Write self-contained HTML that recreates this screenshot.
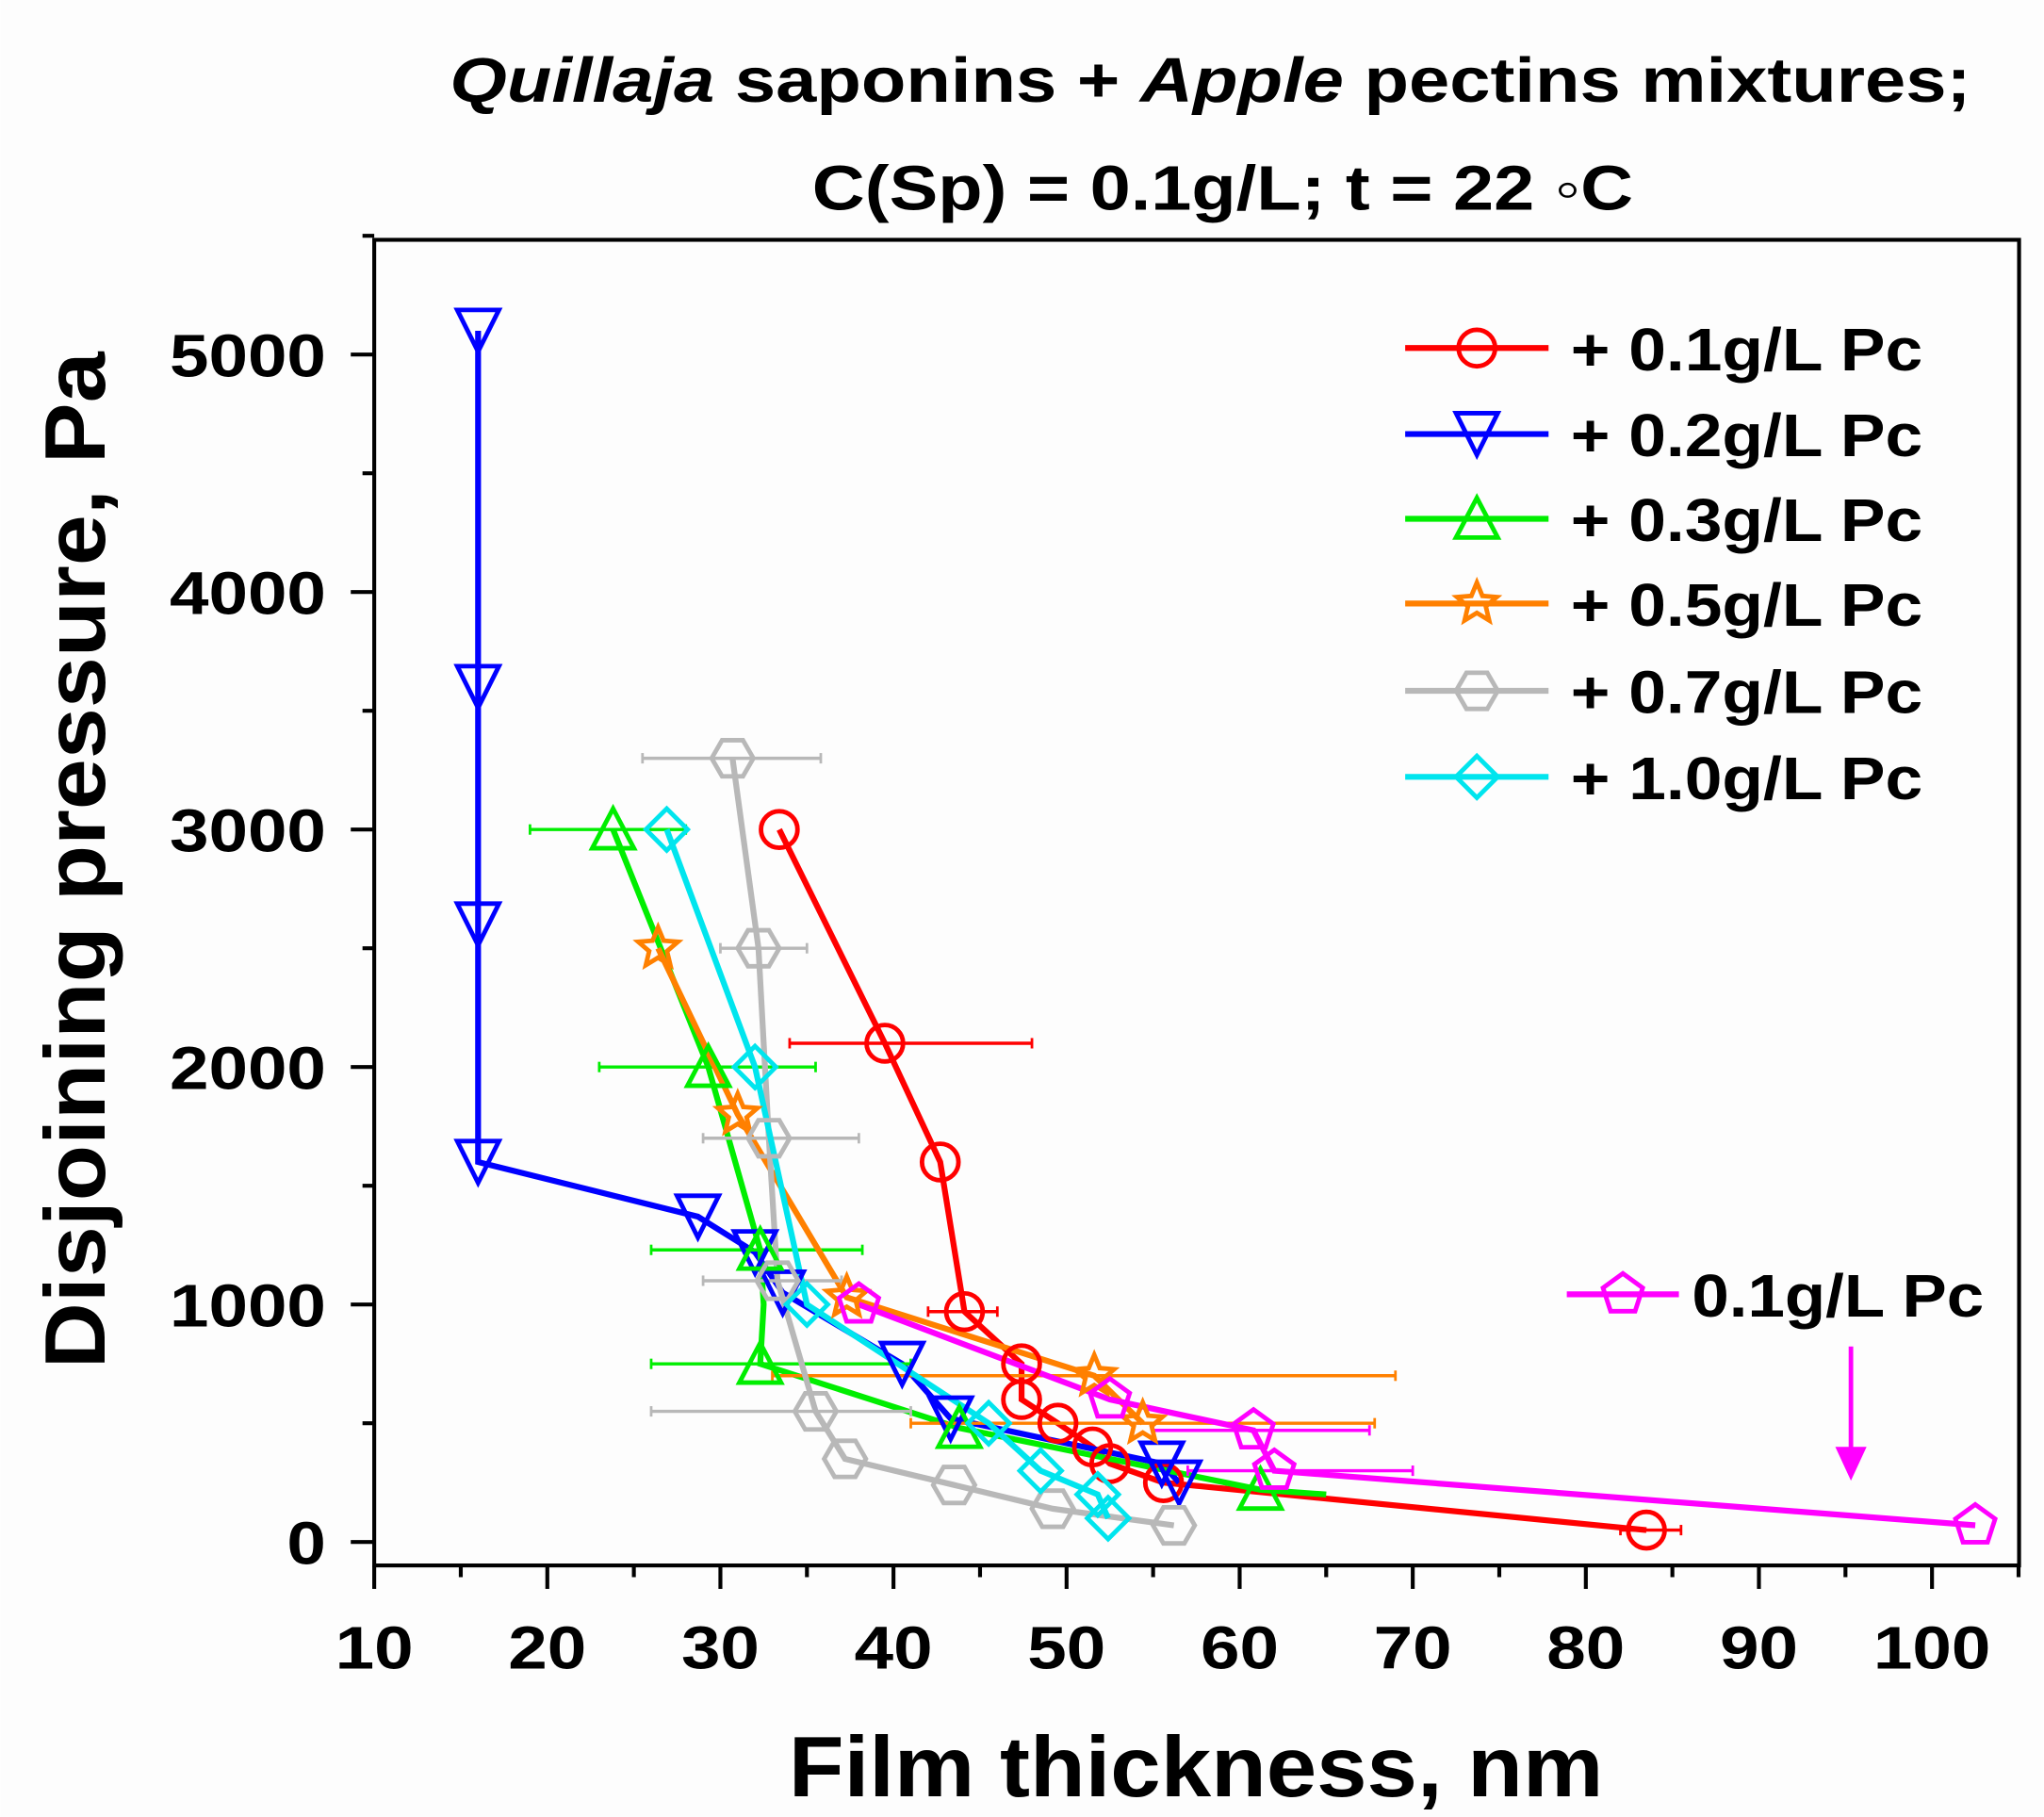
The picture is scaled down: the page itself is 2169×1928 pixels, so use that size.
<!DOCTYPE html>
<html><head><meta charset="utf-8"><style>
html,body{margin:0;padding:0;background:#fff;}
svg{display:block;}
text{font-family:"Liberation Sans",Arial,sans-serif;font-weight:bold;fill:#000;}
</style></head><body>
<svg id="s" width="2169" height="1928" viewBox="0 0 1568 1394" xmlns="http://www.w3.org/2000/svg">
<rect x="0" y="0" width="1568" height="1394" fill="#fdfdfd"/>
<text x="345" y="78" font-size="48" textLength="1167" lengthAdjust="spacingAndGlyphs"><tspan font-style="italic">Quillaja</tspan> saponins + <tspan font-style="italic">Apple</tspan> pectins mixtures;</text>
<text x="623" y="161" font-size="48" textLength="630" lengthAdjust="spacingAndGlyphs">C(Sp) = 0.1g/L; t = 22 ◦C</text>
<text x="605" y="1378" font-size="66" textLength="625" lengthAdjust="spacingAndGlyphs">Film thickness, nm</text>
<text transform="translate(80,1050) rotate(-90)" font-size="66" textLength="780" lengthAdjust="spacingAndGlyphs">Disjoining pressure, Pa</text>
<g id="g"></g>
</svg>
<script>
var g=document.getElementById('g');var NS='http://www.w3.org/2000/svg';
function el(t,a,p){var e=document.createElementNS(NS,t);for(var k in a)e.setAttribute(k,a[k]);(p||g).appendChild(e);return e;}
function X(v){return 287+(v-10)*13.28;}function Y(p){return 1183-p*0.1822;}
el('rect',{x:287,y:184,width:1262,height:1017,fill:'none',stroke:'#000','stroke-width':3});
for(var v=10;v<=105;v+=5){var maj=v%10==0;el('line',{x1:X(v),x2:X(v),y1:1201,y2:1201+(maj?18:9),stroke:'#000','stroke-width':3});
 if(maj&&v<=100){var s=String(v);var t=el('text',{x:X(v)-s.length*15,y:1280,'font-size':46,textLength:s.length*30,lengthAdjust:'spacingAndGlyphs'});t.textContent=s;}}
for(var p=0;p<=5500;p+=500){var maj=p%1000==0;el('line',{x1:287,x2:287-(maj?18:9),y1:Y(p),y2:Y(p),stroke:'#000','stroke-width':3});
 if(maj){var s=String(p);var t=el('text',{x:250-s.length*30,y:Y(p)+17,'font-size':46,textLength:s.length*30,lengthAdjust:'spacingAndGlyphs'});t.textContent=s;}}
function marker(type,cx,cy,c,r){r=r||16;var a={fill:'none',stroke:c,'stroke-width':3.5};
 if(type=='o'){a.cx=cx;a.cy=cy;a.r=r-2;el('circle',a);}
 else if(type=='v'){a.points=[cx-r,cy-r,cx+r,cy-r,cx,cy+r].join(' ');el('polygon',a);}
 else if(type=='^'){a.points=[cx-r,cy+r*0.9,cx+r,cy+r*0.9,cx,cy-r].join(' ');el('polygon',a);}
 else if(type=='d'){a.points=[cx,cy-r,cx+r,cy,cx,cy+r,cx-r,cy].join(' ');el('polygon',a);}
 else {var n=type=='h'?6:5,pts=[];var N=type=='s'?10:n;
  for(var i=0;i<N;i++){var ang=(type=='h'?0:-Math.PI/2)+i*2*Math.PI/N;var rr=(type=='s'&&i%2)?r*0.45:r;pts.push(cx+rr*Math.cos(ang),cy+rr*Math.sin(ang));}
  a.points=pts.join(' ');el('polygon',a);}}
var S=[
 {c:'#ff0000',m:'o',d:[[33.4,3000],[39.5,2100],[42.7,1600],[44.1,970],[47.4,750],[47.4,600],[49.5,500],[51.5,400],[52.5,330],[55.6,250],[83.5,50]],e:[[34,48,2100],[42,46,970],[82,85.5,50]]},
 {c:'#0000ff',m:'v',d:[[16,5100],[16,3600],[16,2600],[16,1600],[28.7,1370],[32,1220],[33.6,1050],[40.5,750],[43.3,520],[55.5,330],[56.5,250]],e:[]},
 {c:'#00ee00',m:'^',d:[[23.8,3000],[29.3,2000],[32.3,1230],[32.5,1000],[32.3,750],[43.8,480],[61.2,220],[65,200]],e:[[19,28,3000],[23,35.5,2000],[26,38.2,1230],[26,41,750]],nm:[3,7]},
 {c:'#ff8000',m:'s',d:[[26.4,2500],[31,1800],[37.3,1030],[51.6,700],[54.4,500]],e:[[33,69,700],[41,67.8,500]]},
 {c:'#b8b8b8',m:'h',d:[[30.7,3300],[32.2,2500],[32.8,1700],[33.3,1100],[35.5,550],[37.2,350],[43.5,240],[49.2,140],[56.2,70]],e:[[25.5,35.8,3300],[30,35,2500],[29,38,1700],[29,37,1100],[26,41,550]]},
 {c:'#00e5ee',m:'d',d:[[26.9,3000],[32,2000],[35,1000],[45.5,500],[48.5,300],[51.8,200],[52.4,100]],e:[]},
 {c:'#ff00ff',m:'p',d:[[38,1000],[52.5,600],[60.8,470],[62,300],[102.5,70]],e:[[55,67.5,470],[57,70,300]]}
];
S.forEach(function(s){
 s.e.forEach(function(e){el('line',{x1:X(e[0]),x2:X(e[1]),y1:Y(e[2]),y2:Y(e[2]),stroke:s.c,'stroke-width':2.5});
  [e[0],e[1]].forEach(function(v){el('line',{x1:X(v),x2:X(v),y1:Y(e[2])-4,y2:Y(e[2])+4,stroke:s.c,'stroke-width':2});});});
 el('polyline',{points:s.d.map(function(q){return X(q[0])+','+Y(q[1]);}).join(' '),fill:'none',stroke:s.c,'stroke-width':4.5});
});
S.forEach(function(s){s.d.forEach(function(q,i){if(s.nm&&s.nm.indexOf(i)>=0)return;marker(s.m,X(q[0]),Y(q[1]),s.c);});});
var L=['+ 0.1g/L Pc','+ 0.2g/L Pc','+ 0.3g/L Pc','+ 0.5g/L Pc','+ 0.7g/L Pc','+ 1.0g/L Pc'];
[267,333,398,463,530,596].forEach(function(y,i){var s=S[i];el('line',{x1:1078,x2:1188,y1:y,y2:y,stroke:s.c,'stroke-width':4.5});marker(s.m,1133,y,s.c);
 var t=el('text',{x:1205,y:y+17,'font-size':46,textLength:270,lengthAdjust:'spacingAndGlyphs'});t.textContent=L[i];});
el('line',{x1:1202,x2:1288,y1:993,y2:993,stroke:'#ff00ff','stroke-width':4.5});marker('p',1245,993,'#ff00ff');
var t=el('text',{x:1298,y:1010,'font-size':46,textLength:224,lengthAdjust:'spacingAndGlyphs'});t.textContent='0.1g/L Pc';
el('line',{x1:1420,x2:1420,y1:1033,y2:1120,stroke:'#ff00ff','stroke-width':3.5});
el('polygon',{points:'1408,1110 1432,1110 1420,1136',fill:'#ff00ff'});
</script>
</body></html>
